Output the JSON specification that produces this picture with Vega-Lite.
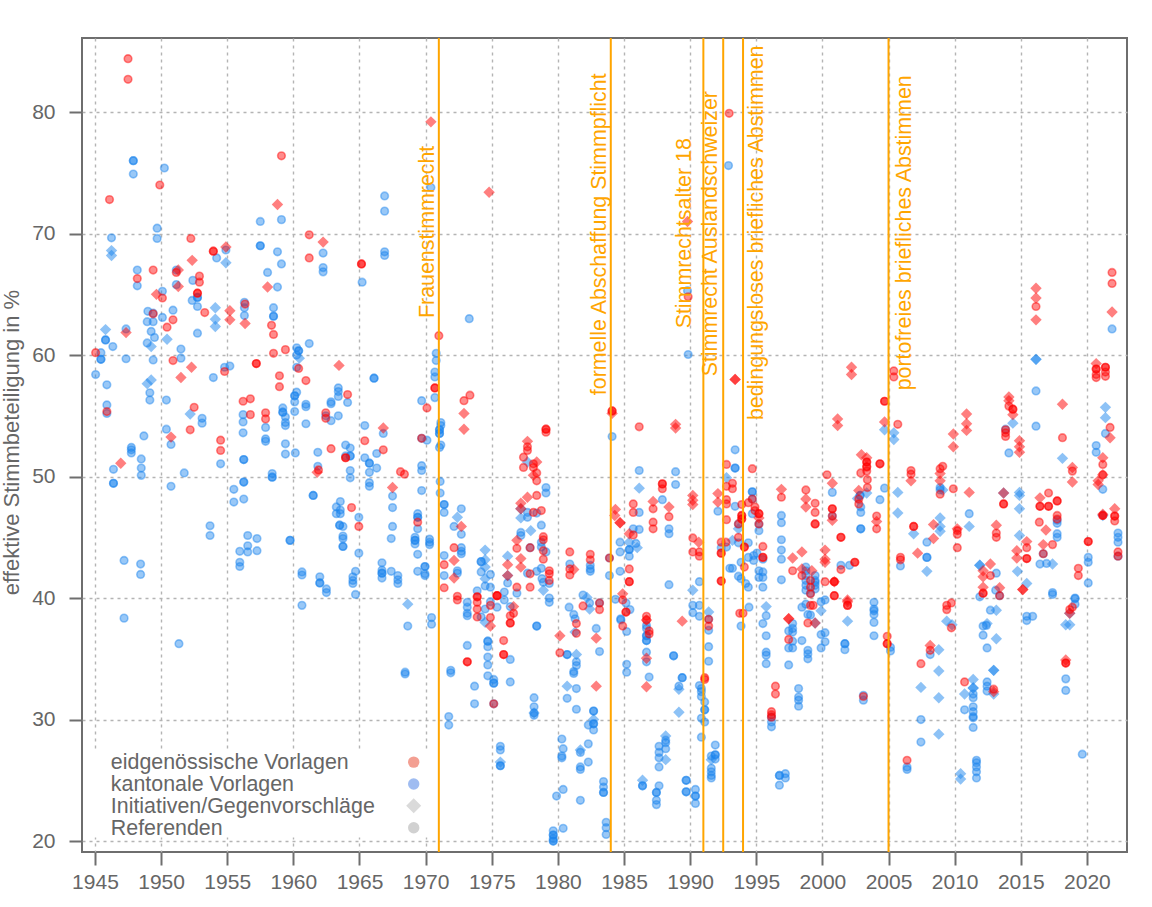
{"$schema":"https://vega.github.io/schema/vega-lite/v6.json","width":1045,"height":814,"autosize":{"type":"none"},"padding":{"left":82,"top":38,"right":25,"bottom":55},"background":"white","config":{"view":{"stroke":"#6e6e6e","strokeWidth":2},"font":"Liberation Sans"},
"datasets":{
"kR":[{"year":1947.9,"pct":76},{"year":1947.9,"pct":76},{"year":1947.9,"pct":74.9},{"year":1950.25,"pct":75.4},{"year":1949.7,"pct":70.45},{"year":1949.7,"pct":69.6},{"year":1946.25,"pct":69.65},{"year":1957.5,"pct":71},{"year":1959.1,"pct":71.15},{"year":1957.5,"pct":69},{"year":1957.5,"pct":69},{"year":1958.8,"pct":68.5},{"year":1959.1,"pct":67.5},{"year":1958.05,"pct":66.8},{"year":1958.8,"pct":65.6},{"year":1962.25,"pct":68.4},{"year":1962.25,"pct":67.2},{"year":1962.25,"pct":66.85},{"year":1965.2,"pct":66},{"year":1966.9,"pct":73.1},{"year":1966.9,"pct":71.85},{"year":1966.9,"pct":68.5},{"year":1966.9,"pct":68.2},{"year":1970.4,"pct":73.8},{"year":1948.2,"pct":67},{"year":1948.2,"pct":65.7},{"year":1954.2,"pct":68},{"year":1954.9,"pct":68.65},{"year":1951.15,"pct":67},{"year":1951.15,"pct":65.8},{"year":1952.4,"pct":66.15},{"year":1950.1,"pct":65.25},{"year":1952.35,"pct":64.5},{"year":1952.75,"pct":64.75},{"year":1952.75,"pct":64.75},{"year":1952.75,"pct":64},{"year":1956.3,"pct":64.35},{"year":1956.3,"pct":63.9},{"year":1958.5,"pct":63.9},{"year":1950.9,"pct":63.7},{"year":1949,"pct":63.6},{"year":1948.95,"pct":62.75},{"year":1949.4,"pct":63.45},{"year":1949.4,"pct":62.75},{"year":1950.1,"pct":63.1},{"year":1956.3,"pct":63.25},{"year":1958.5,"pct":63.2},{"year":1958.5,"pct":63.2},{"year":1949.25,"pct":61.95},{"year":1949.5,"pct":61.45},{"year":1948.95,"pct":61},{"year":1952.75,"pct":61.8},{"year":1947.35,"pct":62.15},{"year":1945.8,"pct":61.25},{"year":1945.8,"pct":61.25},{"year":1946.35,"pct":60.7},{"year":1945.45,"pct":60.2},{"year":1945.45,"pct":59.65},{"year":1945.45,"pct":59.65},{"year":1947.35,"pct":59.7},{"year":1949.4,"pct":59.6},{"year":1951.5,"pct":60.5},{"year":1951.5,"pct":59.75},{"year":1945.05,"pct":58.4},{"year":1945.9,"pct":57.55},{"year":1945.9,"pct":55.9},{"year":1945.9,"pct":55.2},{"year":1949.15,"pct":56.9},{"year":1949.15,"pct":56.3},{"year":1950.4,"pct":56.3},{"year":1953.95,"pct":58.15},{"year":1954.8,"pct":59},{"year":1955.2,"pct":59.1},{"year":1960.25,"pct":60.6},{"year":1960.4,"pct":60.35},{"year":1960.4,"pct":60.35},{"year":1960.25,"pct":60},{"year":1960.25,"pct":59},{"year":1961.2,"pct":60.95},{"year":1960.25,"pct":56.95},{"year":1960.1,"pct":56.65},{"year":1960.1,"pct":56.65},{"year":1960.1,"pct":56.15},{"year":1960.1,"pct":55.35},{"year":1960.95,"pct":55.95},{"year":1960.95,"pct":55.75},{"year":1960.95,"pct":54.35},{"year":1959.2,"pct":55.65},{"year":1959.2,"pct":55.3},{"year":1959.2,"pct":55.3},{"year":1959.4,"pct":54.9},{"year":1959.4,"pct":54.45},{"year":1959.4,"pct":54.2},{"year":1959.4,"pct":52.7},{"year":1959.4,"pct":51.85},{"year":1960.15,"pct":51.95},{"year":1957.9,"pct":54.05},{"year":1957.9,"pct":53.1},{"year":1957.9,"pct":52.9},{"year":1956.2,"pct":55.1},{"year":1956.2,"pct":54.5},{"year":1956.2,"pct":53.6},{"year":1956.25,"pct":51.4},{"year":1956.25,"pct":51.4},{"year":1954.5,"pct":51.05},{"year":1953.1,"pct":54.8},{"year":1953.1,"pct":54.4},{"year":1950.4,"pct":53.9},{"year":1950.75,"pct":52.65},{"year":1948.7,"pct":53.35},{"year":1947.75,"pct":52.4},{"year":1947.75,"pct":52.2},{"year":1947.75,"pct":51.95},{"year":1948.5,"pct":51.45},{"year":1948.5,"pct":50.7},{"year":1948.5,"pct":50.1},{"year":1946.4,"pct":50.6},{"year":1946.4,"pct":49.45},{"year":1946.4,"pct":49.45},{"year":1951.75,"pct":50.3},{"year":1950.75,"pct":49.2},{"year":1962.85,"pct":56.15},{"year":1962.85,"pct":56},{"year":1963.4,"pct":57.3},{"year":1963.4,"pct":57},{"year":1963.4,"pct":56.6},{"year":1964.1,"pct":56.1},{"year":1962.45,"pct":55},{"year":1962.85,"pct":54.6},{"year":1963.4,"pct":55},{"year":1966.1,"pct":58.1},{"year":1966.1,"pct":58.1},{"year":1965.4,"pct":54.2},{"year":1966.8,"pct":53.55},{"year":1966.3,"pct":51.9},{"year":1963.95,"pct":52.6},{"year":1964.3,"pct":52.35},{"year":1964.3,"pct":51.7},{"year":1964.3,"pct":51.7},{"year":1963.95,"pct":51.7},{"year":1965.4,"pct":51.55},{"year":1965.75,"pct":51.1},{"year":1965.75,"pct":51.1},{"year":1966.3,"pct":50.7},{"year":1965.75,"pct":50.35},{"year":1964.3,"pct":50.5},{"year":1964.3,"pct":49.9},{"year":1961.85,"pct":52},{"year":1961.85,"pct":50.85},{"year":1965.75,"pct":49.5},{"year":1965.75,"pct":49.2},{"year":1969.7,"pct":56.25},{"year":1969.7,"pct":53.15},{"year":1969.7,"pct":50.9},{"year":1969.7,"pct":50.5},{"year":1969.7,"pct":48.85},{"year":1970.1,"pct":53},{"year":1967.5,"pct":48.4},{"year":1967.5,"pct":47.45},{"year":1967.5,"pct":45.9},{"year":1967.4,"pct":44.9},{"year":1961.5,"pct":48.45},{"year":1961.5,"pct":48.45},{"year":1963.55,"pct":47.95},{"year":1963.25,"pct":47.5},{"year":1963.55,"pct":47.25},{"year":1963.25,"pct":46.95},{"year":1963.55,"pct":46.95},{"year":1963.5,"pct":46},{"year":1963.5,"pct":46},{"year":1963.75,"pct":45.9},{"year":1963.75,"pct":45.1},{"year":1963.75,"pct":44.9},{"year":1963.75,"pct":44.25},{"year":1963.75,"pct":44.25},{"year":1964.95,"pct":46.65},{"year":1964.95,"pct":43.7},{"year":1959.75,"pct":44.75},{"year":1959.75,"pct":44.75},{"year":1956.55,"pct":45.15},{"year":1957.25,"pct":44.9},{"year":1956.55,"pct":44.3},{"year":1956.55,"pct":43.8},{"year":1957.25,"pct":43.9},{"year":1955.95,"pct":43.85},{"year":1955.95,"pct":42.95},{"year":1955.95,"pct":42.6},{"year":1953.7,"pct":45.95},{"year":1953.7,"pct":45.15},{"year":1956.25,"pct":49.55},{"year":1956.25,"pct":49.55},{"year":1955.5,"pct":48.95},{"year":1955.5,"pct":47.9},{"year":1956.25,"pct":48.15},{"year":1958.4,"pct":50.25},{"year":1958.4,"pct":49.95},{"year":1958.4,"pct":49.95},{"year":1947.2,"pct":43.1},{"year":1948.45,"pct":42.8},{"year":1948.45,"pct":41.95},{"year":1960.65,"pct":42.15},{"year":1960.65,"pct":41.9},{"year":1962,"pct":41.75},{"year":1962,"pct":41.25},{"year":1962,"pct":41.25},{"year":1962.5,"pct":40.75},{"year":1962.5,"pct":40.45},{"year":1964.5,"pct":41.75},{"year":1964.5,"pct":41.45},{"year":1964.5,"pct":41.2},{"year":1964.7,"pct":42.2},{"year":1964.7,"pct":40.3},{"year":1966.7,"pct":42.9},{"year":1966.7,"pct":42.3},{"year":1966.7,"pct":42.05},{"year":1966.7,"pct":42.05},{"year":1966.7,"pct":41.65},{"year":1967.4,"pct":42.2},{"year":1967.9,"pct":41.85},{"year":1967.9,"pct":41.5},{"year":1967.9,"pct":41.2},{"year":1969.4,"pct":46.95},{"year":1969.4,"pct":46.65},{"year":1969.4,"pct":46.65},{"year":1969.4,"pct":45.7},{"year":1969.2,"pct":45},{"year":1969.2,"pct":44.75},{"year":1969.2,"pct":44.75},{"year":1969.2,"pct":44.45},{"year":1970.3,"pct":44.85},{"year":1970.3,"pct":44.6},{"year":1970.3,"pct":44.4},{"year":1969.4,"pct":43.6},{"year":1969.4,"pct":42.2},{"year":1969.95,"pct":42.6},{"year":1969.95,"pct":42.6},{"year":1969.95,"pct":42},{"year":1969.95,"pct":41.85},{"year":1947.2,"pct":38.35},{"year":1951.35,"pct":36.25},{"year":1960.65,"pct":39.4},{"year":1968.65,"pct":37.7},{"year":1970.45,"pct":38.4},{"year":1970.45,"pct":37.85},{"year":1968.45,"pct":33.9},{"year":1968.45,"pct":33.75},{"year":1970.8,"pct":60.15},{"year":1970.8,"pct":59.55},{"year":1970.7,"pct":58.6},{"year":1970.7,"pct":58.2},{"year":1970.7,"pct":56.5},{"year":1971.15,"pct":54.45},{"year":1971.15,"pct":54.2},{"year":1971.05,"pct":53.85},{"year":1971.05,"pct":53.85},{"year":1971.05,"pct":53.55},{"year":1971.05,"pct":53.55},{"year":1971.15,"pct":52.6},{"year":1971.05,"pct":52.4},{"year":1971.1,"pct":49.6},{"year":1971.1,"pct":48.65},{"year":1971.4,"pct":47.7},{"year":1971.4,"pct":47.7},{"year":1971.4,"pct":47.05},{"year":1972.7,"pct":47.35},{"year":1972.15,"pct":45.9},{"year":1972.7,"pct":45.25},{"year":1971.4,"pct":43.5},{"year":1971.4,"pct":41.85},{"year":1972.7,"pct":44.15},{"year":1972.7,"pct":43.85},{"year":1972.7,"pct":43.65},{"year":1972.4,"pct":42.25},{"year":1972.4,"pct":42.05},{"year":1974.2,"pct":43},{"year":1974.2,"pct":43},{"year":1974.2,"pct":42.15},{"year":1974.9,"pct":41.95},{"year":1974.5,"pct":41},{"year":1974.9,"pct":40.9},{"year":1973.9,"pct":40.6},{"year":1975.95,"pct":40.5},{"year":1976.2,"pct":41.25},{"year":1976.9,"pct":40.4},{"year":1977.7,"pct":47.05},{"year":1977.7,"pct":46.65},{"year":1978.4,"pct":47},{"year":1977.2,"pct":45.4},{"year":1977.2,"pct":45.15},{"year":1978.75,"pct":46},{"year":1979.1,"pct":49.1},{"year":1979.1,"pct":48.65},{"year":1978.75,"pct":44.6},{"year":1978.75,"pct":44.2},{"year":1979.1,"pct":43.8},{"year":1977.9,"pct":44.15},{"year":1977.7,"pct":42.05},{"year":1978.4,"pct":42.2},{"year":1978.75,"pct":42.45},{"year":1978.8,"pct":41.6},{"year":1978.9,"pct":41.3},{"year":1979.35,"pct":41.2},{"year":1980.9,"pct":42.8},{"year":1982.45,"pct":42.7},{"year":1982.45,"pct":42.4},{"year":1982.45,"pct":42.2},{"year":1983.9,"pct":43.3},{"year":1983.9,"pct":41.85},{"year":1984.1,"pct":53.3},{"year":1986.15,"pct":47.05},{"year":1986.15,"pct":50.5},{"year":1985.7,"pct":45.7},{"year":1986.15,"pct":45.65},{"year":1985.9,"pct":44.5},{"year":1984.7,"pct":44.6},{"year":1984.7,"pct":43.8},{"year":1985.4,"pct":44},{"year":1985.4,"pct":44},{"year":1985.4,"pct":43.45},{"year":1984.7,"pct":42.2},{"year":1987.9,"pct":48.1},{"year":1988.4,"pct":45.7},{"year":1988.4,"pct":45.3},{"year":1988.4,"pct":41.1},{"year":1988.9,"pct":50.4},{"year":1988.9,"pct":49.35},{"year":1989.85,"pct":60.05},{"year":1990.7,"pct":41.35},{"year":1992.1,"pct":47.15},{"year":1992.35,"pct":44.15},{"year":1993,"pct":42.45},{"year":1973.15,"pct":39.65},{"year":1973.15,"pct":39.25},{"year":1973.15,"pct":38.75},{"year":1973.15,"pct":38.55},{"year":1974.5,"pct":39.1},{"year":1974.2,"pct":38.45},{"year":1975.4,"pct":39.25},{"year":1975.95,"pct":39.85},{"year":1974.9,"pct":39.7},{"year":1976.4,"pct":39.3},{"year":1978.4,"pct":37.7},{"year":1978.4,"pct":37.7},{"year":1979.35,"pct":40},{"year":1979.35,"pct":39.65},{"year":1973.15,"pct":36.1},{"year":1974.7,"pct":36.45},{"year":1974.7,"pct":36.45},{"year":1974.7,"pct":36},{"year":1974.7,"pct":35.15},{"year":1974.7,"pct":34.5},{"year":1976.4,"pct":34.95},{"year":1974.7,"pct":33.6},{"year":1971.9,"pct":34.05},{"year":1971.9,"pct":33.85},{"year":1973.7,"pct":32.75},{"year":1973.7,"pct":31.3},{"year":1975.15,"pct":33.3},{"year":1975.15,"pct":33},{"year":1975.15,"pct":33},{"year":1976.4,"pct":33.1},{"year":1975.15,"pct":31.3},{"year":1978.2,"pct":31.8},{"year":1978.2,"pct":31.05},{"year":1978.2,"pct":30.55},{"year":1978.2,"pct":30.35},{"year":1971.75,"pct":30.25},{"year":1971.75,"pct":29.55},{"year":1975.65,"pct":27.8},{"year":1975.65,"pct":27.5},{"year":1975.65,"pct":26.2},{"year":1975.65,"pct":26.2},{"year":1980.85,"pct":39.25},{"year":1981.9,"pct":40.25},{"year":1982.4,"pct":39.6},{"year":1983.15,"pct":39.6},{"year":1982.9,"pct":37.5},{"year":1981.2,"pct":38.65},{"year":1981.3,"pct":38.3},{"year":1980.7,"pct":35.35},{"year":1980.7,"pct":35.35},{"year":1981.4,"pct":34.75},{"year":1981.4,"pct":34.45},{"year":1981.2,"pct":33.95},{"year":1981.2,"pct":33.8},{"year":1983.15,"pct":35.6},{"year":1981.4,"pct":32.55},{"year":1980.7,"pct":31.75},{"year":1981.4,"pct":30.85},{"year":1982.7,"pct":30.7},{"year":1982.7,"pct":30.7},{"year":1982.3,"pct":29.55},{"year":1982.7,"pct":29.65},{"year":1982.7,"pct":29.65},{"year":1982.7,"pct":29.15},{"year":1980.3,"pct":28.4},{"year":1980.4,"pct":27.6},{"year":1980.3,"pct":27},{"year":1980.3,"pct":26.85},{"year":1981.7,"pct":27.3},{"year":1982.3,"pct":28},{"year":1982.3,"pct":26.5},{"year":1981.7,"pct":26.1},{"year":1981.7,"pct":25.9},{"year":1979.9,"pct":23.7},{"year":1980.4,"pct":24.25},{"year":1981.7,"pct":23.35},{"year":1983.45,"pct":24.9},{"year":1983.45,"pct":24.45},{"year":1983.45,"pct":24},{"year":1983.45,"pct":24},{"year":1979.65,"pct":20.85},{"year":1979.65,"pct":20.5},{"year":1979.65,"pct":20.5},{"year":1979.65,"pct":20.2},{"year":1979.65,"pct":20},{"year":1979.65,"pct":20},{"year":1980.4,"pct":21.05},{"year":1983.65,"pct":21.55},{"year":1983.65,"pct":21.1},{"year":1983.65,"pct":20.55},{"year":1984.35,"pct":39.9},{"year":1985.15,"pct":39.6},{"year":1985.45,"pct":39.05},{"year":1984.75,"pct":38.3},{"year":1984.75,"pct":38.2},{"year":1985.2,"pct":37.25},{"year":1985.2,"pct":34.55},{"year":1985.2,"pct":33.9},{"year":1986.7,"pct":37.75},{"year":1986.7,"pct":37.5},{"year":1986.7,"pct":36.9},{"year":1986.7,"pct":36.9},{"year":1986.7,"pct":36.5},{"year":1986.7,"pct":36.5},{"year":1986.7,"pct":35.55},{"year":1986.7,"pct":34.75},{"year":1986.9,"pct":33.5},{"year":1988.75,"pct":35.25},{"year":1988.75,"pct":35.25},{"year":1990.2,"pct":39.4},{"year":1990.7,"pct":39.4},{"year":1990.2,"pct":38.8},{"year":1990.7,"pct":38.5},{"year":1991.4,"pct":38.25},{"year":1991.4,"pct":37.35},{"year":1991.4,"pct":36},{"year":1991.4,"pct":34.8},{"year":1990.7,"pct":32.8},{"year":1990.85,"pct":32.55},{"year":1990.85,"pct":32.3},{"year":1990.85,"pct":31.9},{"year":1991.1,"pct":31.45},{"year":1991.1,"pct":30.8},{"year":1991.1,"pct":30.8},{"year":1990.85,"pct":30.1},{"year":1991.1,"pct":29.8},{"year":1990.85,"pct":28.55},{"year":1989.4,"pct":33.45},{"year":1989.4,"pct":33.45},{"year":1989.15,"pct":32.75},{"year":1987.65,"pct":27.8},{"year":1987.65,"pct":27.3},{"year":1987.65,"pct":26.85},{"year":1987.65,"pct":26.1},{"year":1988.15,"pct":28.3},{"year":1988.15,"pct":28.1},{"year":1988.15,"pct":27.6},{"year":1986.4,"pct":24.55},{"year":1986.4,"pct":24.55},{"year":1987.65,"pct":24.55},{"year":1987.45,"pct":24},{"year":1987.45,"pct":24},{"year":1987.45,"pct":23.35},{"year":1987.45,"pct":23},{"year":1989.7,"pct":25},{"year":1989.7,"pct":25},{"year":1989.7,"pct":24.05},{"year":1989.7,"pct":24.05},{"year":1990.4,"pct":24.25},{"year":1990.4,"pct":23.7},{"year":1990.4,"pct":23.7},{"year":1990.4,"pct":23.1},{"year":1991.9,"pct":27.9},{"year":1991.6,"pct":27},{"year":1991.9,"pct":27.1},{"year":1991.9,"pct":27.1},{"year":1991.9,"pct":26.75},{"year":1991.6,"pct":26},{"year":1991.6,"pct":25.7},{"year":1991.6,"pct":25.4},{"year":1991.6,"pct":25.2},{"year":1989.8,"pct":65.3},{"year":1992.9,"pct":75.6},{"year":1973.3,"pct":63},{"year":1993.4,"pct":52.2},{"year":1993.4,"pct":50.7},{"year":1993.4,"pct":50.7},{"year":1993.4,"pct":47.55},{"year":1994.7,"pct":48.75},{"year":1994.7,"pct":48.75},{"year":1994.7,"pct":48.15},{"year":1994.7,"pct":46.95},{"year":1993.65,"pct":46.1},{"year":1995.2,"pct":46.1},{"year":1995.2,"pct":45.55},{"year":1993.65,"pct":44.55},{"year":1994.4,"pct":44.55},{"year":1992.75,"pct":44.2},{"year":1995.5,"pct":43.2},{"year":1995.05,"pct":43.7},{"year":1994.8,"pct":43.5},{"year":1994.4,"pct":43.35},{"year":1994.8,"pct":43.1},{"year":1993.85,"pct":42.95},{"year":1993.2,"pct":42.45},{"year":1995.2,"pct":42.25},{"year":1995.5,"pct":42.15},{"year":1995.2,"pct":41.7},{"year":1995.5,"pct":41.7},{"year":1995.5,"pct":40.9},{"year":1993.65,"pct":41.8},{"year":1993.85,"pct":41.6},{"year":1994.2,"pct":41.2},{"year":1994.4,"pct":40.9},{"year":1996.9,"pct":46.8},{"year":1996.9,"pct":46.2},{"year":1996.9,"pct":44.8},{"year":1996.9,"pct":43.95},{"year":1996.9,"pct":43.2},{"year":1996.9,"pct":41.5},{"year":1998.75,"pct":42.55},{"year":1998.75,"pct":42.25},{"year":1998.75,"pct":41.85},{"year":1998.75,"pct":41.45},{"year":1998.75,"pct":41.05},{"year":1998.75,"pct":40.65},{"year":1999.45,"pct":41.85},{"year":1999.45,"pct":41.45},{"year":1999.45,"pct":41.3},{"year":1999.45,"pct":41.05},{"year":1999.45,"pct":40.75},{"year":1999.1,"pct":40.4},{"year":2000.75,"pct":48.7},{"year":2000.75,"pct":46.75},{"year":2001.4,"pct":42.7},{"year":2002.05,"pct":42.7},{"year":2002.85,"pct":48.45},{"year":2002.85,"pct":48.45},{"year":2002.9,"pct":47.5},{"year":2002.9,"pct":47.05},{"year":2002.9,"pct":45.7},{"year":2002.9,"pct":45.7},{"year":2004.35,"pct":48.1},{"year":2004.7,"pct":49.05},{"year":2005.9,"pct":42.65},{"year":2007.9,"pct":44.6},{"year":2007.9,"pct":43.35},{"year":2007.9,"pct":43.35},{"year":2008.9,"pct":49.1},{"year":2008.9,"pct":48.9},{"year":2011.1,"pct":46.95},{"year":2013.15,"pct":42.05},{"year":2011.9,"pct":40.1},{"year":2013.1,"pct":40.65},{"year":2013.4,"pct":40.2},{"year":2014.1,"pct":51.95},{"year":2013.85,"pct":53.9},{"year":2016.15,"pct":57.05},{"year":2016.15,"pct":54.15},{"year":2017.75,"pct":46.4},{"year":2017.75,"pct":46.15},{"year":2017.75,"pct":45.3},{"year":2017.75,"pct":45},{"year":2016.7,"pct":43.65},{"year":2016.45,"pct":42.8},{"year":2016.95,"pct":42.85},{"year":2020.1,"pct":43.35},{"year":2020.1,"pct":42.95},{"year":2020.1,"pct":41.25},{"year":2019.1,"pct":40},{"year":2021.4,"pct":53.55},{"year":2020.7,"pct":52.55},{"year":2020.7,"pct":52},{"year":2021.2,"pct":48.95},{"year":2022.35,"pct":45.35},{"year":2022.35,"pct":45},{"year":2022.35,"pct":44.6},{"year":2022.35,"pct":43.45},{"year":2021.9,"pct":62.15},{"year":1994.45,"pct":39.25},{"year":1993.85,"pct":37.7},{"year":1995.75,"pct":38.55},{"year":1995.5,"pct":37.9},{"year":1995.75,"pct":36.9},{"year":1995.75,"pct":35.55},{"year":1995.75,"pct":35.3},{"year":1995.75,"pct":34.6},{"year":1997.75,"pct":37.9},{"year":1997.75,"pct":37.5},{"year":1997.75,"pct":37.2},{"year":1997.45,"pct":37.3},{"year":1997.75,"pct":36.45},{"year":1998.45,"pct":36.5},{"year":1997.45,"pct":35.9},{"year":1997.75,"pct":35.9},{"year":1997.45,"pct":34.5},{"year":1998.9,"pct":35.7},{"year":1998.9,"pct":35.4},{"year":1998.9,"pct":35},{"year":1998.9,"pct":38.65},{"year":1999.1,"pct":38.6},{"year":1998.45,"pct":39.25},{"year":1998.75,"pct":39.5},{"year":1999.9,"pct":39.7},{"year":2000.2,"pct":39.85},{"year":2000.2,"pct":37.15},{"year":1999.9,"pct":37},{"year":2000.2,"pct":36.4},{"year":1999.9,"pct":35.9},{"year":2001.7,"pct":36.25},{"year":2001.7,"pct":36.25},{"year":2001.7,"pct":35.75},{"year":2003.1,"pct":32},{"year":2003.1,"pct":31.6},{"year":2003.9,"pct":39.65},{"year":2003.9,"pct":39.1},{"year":2003.9,"pct":38.95},{"year":2003.9,"pct":38.65},{"year":2003.9,"pct":38},{"year":2003.9,"pct":36.9},{"year":2005.15,"pct":35.95},{"year":2005.15,"pct":35.65},{"year":1998.2,"pct":32.55},{"year":1998.2,"pct":31.85},{"year":1998.2,"pct":31.6},{"year":1998.2,"pct":31.1},{"year":1996.15,"pct":30.2},{"year":1996.15,"pct":29.8},{"year":1996.15,"pct":29.4},{"year":1997.2,"pct":25.55},{"year":1997.2,"pct":25.2},{"year":1996.75,"pct":25.4},{"year":1996.75,"pct":25.4},{"year":1996.75,"pct":24.6},{"year":2006.4,"pct":26.1},{"year":2006.4,"pct":25.9},{"year":2008.15,"pct":35.35},{"year":2007.45,"pct":30},{"year":2007.45,"pct":28.15},{"year":2011.4,"pct":32.1},{"year":2011.4,"pct":31.8},{"year":2010.75,"pct":30.8},{"year":2011.4,"pct":31.05},{"year":2011.4,"pct":30.65},{"year":2011.4,"pct":30.25},{"year":2011.4,"pct":30.15},{"year":2011.4,"pct":29.35},{"year":2011.65,"pct":26.65},{"year":2011.65,"pct":26.45},{"year":2011.65,"pct":26.1},{"year":2011.65,"pct":25.7},{"year":2011.65,"pct":25.2},{"year":2012.45,"pct":33.1},{"year":2012.45,"pct":32.75},{"year":2012.45,"pct":32.35},{"year":2012.15,"pct":36.95},{"year":2012.4,"pct":37.75},{"year":2012.15,"pct":37.7},{"year":2012.45,"pct":35.9},{"year":2012.7,"pct":39},{"year":2015.45,"pct":38.5},{"year":2015.45,"pct":38.15},{"year":2015.9,"pct":38.5},{"year":2017.4,"pct":40.45},{"year":2017.4,"pct":40.3},{"year":2019.1,"pct":39.95},{"year":2019.1,"pct":39.5},{"year":2018.4,"pct":33.35},{"year":2018.4,"pct":32.4},{"year":2019.65,"pct":27.15}],
"kI":[{"year":1946.25,"pct":68.6},{"year":1946.25,"pct":68.2},{"year":1954.9,"pct":67.6},{"year":1954.1,"pct":63.9},{"year":1945.8,"pct":62.1},{"year":1954.1,"pct":62.95},{"year":1954.1,"pct":62.35},{"year":1950.45,"pct":61.3},{"year":1949.25,"pct":60.7},{"year":1949.25,"pct":57.95},{"year":1948.95,"pct":57.65},{"year":1952.2,"pct":55.15},{"year":1960.45,"pct":59.75},{"year":1968.65,"pct":39.5},{"year":1972.4,"pct":46.65},{"year":1974.5,"pct":43.95},{"year":1974.5,"pct":43.15},{"year":1974.5,"pct":42.55},{"year":1974.5,"pct":41.6},{"year":1976.2,"pct":43.45},{"year":1976.2,"pct":41.85},{"year":1977.7,"pct":51.2},{"year":1977.2,"pct":47.35},{"year":1977.2,"pct":46.6},{"year":1977.95,"pct":45.55},{"year":1978.9,"pct":40.65},{"year":1986.15,"pct":49.05},{"year":1985.4,"pct":44.6},{"year":1986,"pct":44.15},{"year":1990.2,"pct":40.65},{"year":1992.75,"pct":49.9},{"year":1974.5,"pct":38},{"year":1978.2,"pct":30.55},{"year":1975.65,"pct":26.5},{"year":1982.2,"pct":40.05},{"year":1982.4,"pct":39.1},{"year":1981.3,"pct":37.2},{"year":1981.4,"pct":35.35},{"year":1980.7,"pct":32.75},{"year":1982.7,"pct":30},{"year":1981.7,"pct":27.5},{"year":1991.4,"pct":38.85},{"year":1989.15,"pct":32.5},{"year":1989.15,"pct":30.6},{"year":1988.15,"pct":28.65},{"year":1988.15,"pct":26.7},{"year":1986.4,"pct":25},{"year":1991.6,"pct":26.7},{"year":1993.2,"pct":44.75},{"year":1993.65,"pct":45.7},{"year":1995.75,"pct":39.3},{"year":1999.9,"pct":38.95},{"year":1999.45,"pct":37.95},{"year":2001.9,"pct":38.1},{"year":2003.35,"pct":48.65},{"year":2002.65,"pct":48.2},{"year":2004.7,"pct":53.85},{"year":2005.4,"pct":53.6},{"year":2005.4,"pct":53.05},{"year":2005.7,"pct":48.7},{"year":2005.7,"pct":47},{"year":2006.9,"pct":45.3},{"year":2007.9,"pct":42.2},{"year":2009.1,"pct":48.9},{"year":2008.9,"pct":46.6},{"year":2008.9,"pct":45.9},{"year":2008.9,"pct":45.5},{"year":2011.1,"pct":45.9},{"year":2008.8,"pct":35.75},{"year":2008.8,"pct":34},{"year":2007.45,"pct":32.65},{"year":2008.8,"pct":31.8},{"year":2008.8,"pct":28.8},{"year":2009.4,"pct":38.1},{"year":2009.8,"pct":37.8},{"year":2011.4,"pct":33.3},{"year":2011.4,"pct":32.6},{"year":2011.4,"pct":32.6},{"year":2010.75,"pct":32.1},{"year":2010.45,"pct":25.55},{"year":2010.45,"pct":25.1},{"year":2011.9,"pct":42.7},{"year":2011.9,"pct":42.7},{"year":2012.95,"pct":34.05},{"year":2012.95,"pct":34.05},{"year":2012.95,"pct":32.1},{"year":2013.15,"pct":36.65},{"year":2013.15,"pct":39},{"year":2012.45,"pct":37.9},{"year":2014.9,"pct":48.7},{"year":2014.9,"pct":48.45},{"year":2014.9,"pct":47.35},{"year":2014.9,"pct":45.15},{"year":2014.75,"pct":42.2},{"year":2015.45,"pct":41.2},{"year":2014.4,"pct":54.4},{"year":2016.15,"pct":59.65},{"year":2016.15,"pct":59.65},{"year":2018.15,"pct":51.5},{"year":2017.4,"pct":42.8},{"year":2018.4,"pct":37.8},{"year":2018.7,"pct":37.8},{"year":2021.4,"pct":55.7},{"year":2021.4,"pct":54.85},{"year":2021.2,"pct":46.8},{"year":2013.7,"pct":48.65},{"year":2018.7,"pct":38.75}],
"eI":[{"year":1958.8,"pct":72.4},{"year":1970.4,"pct":79.2},{"year":1962.25,"pct":69.3},{"year":1954.9,"pct":68.9},{"year":1952.35,"pct":67.8},{"year":1951.3,"pct":67},{"year":1951.3,"pct":65.65},{"year":1949.65,"pct":65},{"year":1958.05,"pct":65.6},{"year":1947.35,"pct":61.85},{"year":1955.2,"pct":63.65},{"year":1955.2,"pct":62.9},{"year":1956.35,"pct":62.6},{"year":1952.3,"pct":59},{"year":1951.5,"pct":58.15},{"year":1950.75,"pct":53.25},{"year":1946.95,"pct":51.1},{"year":1963.45,"pct":59.15},{"year":1966.8,"pct":54},{"year":1961.8,"pct":50.35},{"year":1967.5,"pct":49.1},{"year":1974.8,"pct":73.4},{"year":1989.8,"pct":71},{"year":1972.9,"pct":55.2},{"year":1972.9,"pct":53.9},{"year":1972.7,"pct":45.9},{"year":1972.15,"pct":43.1},{"year":1972.15,"pct":41.65},{"year":1976.2,"pct":42.75},{"year":1976.2,"pct":41.85},{"year":1977.2,"pct":47.8},{"year":1977.2,"pct":47.35},{"year":1977.7,"pct":48.3},{"year":1977.7,"pct":52.9},{"year":1978.4,"pct":51.2},{"year":1978.15,"pct":50.1},{"year":1976.9,"pct":44.75},{"year":1977.2,"pct":43.25},{"year":1977.2,"pct":42.55},{"year":1981.2,"pct":42.35},{"year":1984.1,"pct":55.2},{"year":1984.35,"pct":47.3},{"year":1984.3,"pct":46.8},{"year":1984.7,"pct":46.2},{"year":1984.7,"pct":46.2},{"year":1985.4,"pct":45.3},{"year":1987.2,"pct":47.95},{"year":1988.4,"pct":47.5},{"year":1988.9,"pct":54.3},{"year":1988.9,"pct":54},{"year":1990.2,"pct":48.45},{"year":1990.2,"pct":48.05},{"year":1990.2,"pct":47.7},{"year":1990.65,"pct":44.6},{"year":1992.1,"pct":48.6},{"year":1992.1,"pct":47.9},{"year":1974.9,"pct":37.7},{"year":1976.65,"pct":39.3},{"year":1984.9,"pct":40.35},{"year":1980.15,"pct":36.9},{"year":1982.9,"pct":36.7},{"year":1982.9,"pct":32.75},{"year":1986.7,"pct":35.05},{"year":1986.7,"pct":32.7},{"year":1986.7,"pct":38.2},{"year":1989.4,"pct":38.1},{"year":1993.4,"pct":58},{"year":1993.4,"pct":58},{"year":1995.2,"pct":46.6},{"year":1996.9,"pct":48.95},{"year":1997.75,"pct":43.3},{"year":1998.45,"pct":43.8},{"year":1998.45,"pct":42.4},{"year":1998.75,"pct":48.15},{"year":1998.75,"pct":47.5},{"year":2000.2,"pct":43.95},{"year":2000.2,"pct":43.2},{"year":2000.2,"pct":42.95},{"year":1999.2,"pct":42.25},{"year":2000.9,"pct":41.35},{"year":2000.75,"pct":49.45},{"year":2000.75,"pct":46.4},{"year":2001.15,"pct":54.75},{"year":2001.15,"pct":54.2},{"year":2002.2,"pct":59},{"year":2002.2,"pct":58.4},{"year":2001.9,"pct":39.85},{"year":2002.95,"pct":51.8},{"year":2003.35,"pct":51.55},{"year":2002.75,"pct":48.85},{"year":2004.7,"pct":54.5},{"year":2004.1,"pct":46.3},{"year":2006.7,"pct":49.65},{"year":2007.2,"pct":43.7},{"year":2008.4,"pct":46.05},{"year":2008.4,"pct":44.9},{"year":2008.9,"pct":50.25},{"year":2008.9,"pct":49.65},{"year":2009.9,"pct":53.5},{"year":2009.9,"pct":52.45},{"year":2010.9,"pct":55.15},{"year":2010.9,"pct":54.35},{"year":2010.9,"pct":53.8},{"year":2011.1,"pct":48.7},{"year":2010.2,"pct":45.7},{"year":2013.15,"pct":46},{"year":2012.7,"pct":42.8},{"year":2012.15,"pct":42.25},{"year":2012.15,"pct":41.75},{"year":2012.15,"pct":40.9},{"year":2013.4,"pct":40.85},{"year":2013.7,"pct":48.65},{"year":2014.7,"pct":43.9},{"year":2014.7,"pct":43.3},{"year":2015.45,"pct":44.65},{"year":2015.15,"pct":40.7},{"year":2015.15,"pct":40.7},{"year":2014.1,"pct":56.55},{"year":2014.1,"pct":56.25},{"year":2014.4,"pct":55.1},{"year":2014.9,"pct":52.95},{"year":2014.9,"pct":52.45},{"year":2014.9,"pct":52},{"year":2018.15,"pct":55.95},{"year":2018.9,"pct":50.75},{"year":2018.9,"pct":49.55},{"year":2016.45,"pct":48.25},{"year":2016.9,"pct":45.6},{"year":2016.7,"pct":44.4},{"year":2016.15,"pct":65.5},{"year":2016.15,"pct":64.7},{"year":2016.15,"pct":62.9},{"year":2021.9,"pct":63.55},{"year":2020.7,"pct":59.3},{"year":2021.75,"pct":53.2},{"year":2021.2,"pct":51.55},{"year":2021.2,"pct":50.15},{"year":2020.85,"pct":49.65},{"year":2020.85,"pct":49.35},{"year":2021.2,"pct":46.9},{"year":2022.1,"pct":47.35},{"year":1997.45,"pct":38.3},{"year":1997.45,"pct":38.3},{"year":1999.45,"pct":37.95},{"year":2001.9,"pct":39.7},{"year":2008.15,"pct":36.1},{"year":2012.95,"pct":32.3},{"year":2018.7,"pct":38.75},{"year":2018.4,"pct":34.9}],
"eR":[{"year":1947.5,"pct":84.4},{"year":1947.5,"pct":82.7},{"year":1949.9,"pct":74},{"year":1946.1,"pct":72.8},{"year":1959.1,"pct":76.4},{"year":1961.2,"pct":69.9},{"year":1961.2,"pct":68},{"year":1952.25,"pct":69.6},{"year":1953.95,"pct":68.55},{"year":1953.95,"pct":68.55},{"year":1965.15,"pct":67.5},{"year":1965.15,"pct":67.5},{"year":1949.4,"pct":67},{"year":1948.2,"pct":66.3},{"year":1951.15,"pct":66.8},{"year":1952.9,"pct":66.5},{"year":1952.9,"pct":66},{"year":1950.1,"pct":64.7},{"year":1952.75,"pct":65.1},{"year":1952.75,"pct":65.1},{"year":1945.05,"pct":60.2},{"year":1949.4,"pct":63.4},{"year":1950.45,"pct":62.3},{"year":1950.9,"pct":62.9},{"year":1953.3,"pct":63.5},{"year":1956.35,"pct":64.2},{"year":1958.35,"pct":62.45},{"year":1958.5,"pct":61.7},{"year":1958.5,"pct":60.15},{"year":1959.4,"pct":60.45},{"year":1957.2,"pct":59.3},{"year":1957.2,"pct":59.3},{"year":1954.8,"pct":58.65},{"year":1950.9,"pct":59.55},{"year":1960.4,"pct":58.9},{"year":1958.95,"pct":58.3},{"year":1958.95,"pct":57.4},{"year":1960.95,"pct":57.9},{"year":1956.2,"pct":56.2},{"year":1956.75,"pct":56.4},{"year":1956.75,"pct":55.1},{"year":1957.9,"pct":55.25},{"year":1957.9,"pct":54.75},{"year":1952.5,"pct":55.7},{"year":1952.2,"pct":53.85},{"year":1954.5,"pct":53},{"year":1954.5,"pct":52.15},{"year":1945.9,"pct":55.35},{"year":1962.45,"pct":55.25},{"year":1962.45,"pct":54.8},{"year":1964.1,"pct":56.75},{"year":1965.4,"pct":52.95},{"year":1966.8,"pct":52.2},{"year":1962.85,"pct":52.3},{"year":1963.95,"pct":51.55},{"year":1963.95,"pct":51.55},{"year":1961.9,"pct":50.55},{"year":1964.4,"pct":47.45},{"year":1964.95,"pct":45.9},{"year":1968.1,"pct":50.4},{"year":1968.4,"pct":50.2},{"year":1969.4,"pct":46.25},{"year":1969.7,"pct":53.15},{"year":1970.1,"pct":55.65},{"year":1971,"pct":61.6},{"year":1970.7,"pct":57.3},{"year":1970.7,"pct":57.3},{"year":1973.35,"pct":56.7},{"year":1972.9,"pct":56.25},{"year":1972.15,"pct":44.15},{"year":1971.4,"pct":42.75},{"year":1971.4,"pct":40.85},{"year":1972.4,"pct":40.15},{"year":1972.4,"pct":39.85},{"year":1973.9,"pct":40.1},{"year":1973.9,"pct":40.1},{"year":1975.4,"pct":40.2},{"year":1975.4,"pct":40.2},{"year":1975.4,"pct":40.2},{"year":1976.9,"pct":40.9},{"year":1977.7,"pct":52.45},{"year":1977.7,"pct":52.15},{"year":1977.4,"pct":51.6},{"year":1977.4,"pct":50.75},{"year":1978.15,"pct":51.05},{"year":1978.15,"pct":50.75},{"year":1978.4,"pct":50.3},{"year":1978.4,"pct":49.65},{"year":1978.4,"pct":48.45},{"year":1978.75,"pct":47.2},{"year":1978.15,"pct":47.05},{"year":1978.9,"pct":45.05},{"year":1978.9,"pct":44.8},{"year":1978.9,"pct":43.9},{"year":1978.9,"pct":43.2},{"year":1977.9,"pct":44.15},{"year":1976.9,"pct":44.1},{"year":1977.9,"pct":42},{"year":1977.9,"pct":40.9},{"year":1979.35,"pct":42.25},{"year":1979.35,"pct":42},{"year":1979.35,"pct":41.45},{"year":1979.1,"pct":53.9},{"year":1979.1,"pct":53.9},{"year":1979.1,"pct":53.65},{"year":1980.9,"pct":43.8},{"year":1980.9,"pct":42.4},{"year":1980.9,"pct":41.9},{"year":1982.45,"pct":43.6},{"year":1982.45,"pct":43.15},{"year":1983.9,"pct":43.3},{"year":1984.1,"pct":55.4},{"year":1984.1,"pct":55.4},{"year":1985.7,"pct":47.75},{"year":1985.7,"pct":47.05},{"year":1985.4,"pct":42.4},{"year":1985.4,"pct":41.35},{"year":1985.4,"pct":41.35},{"year":1985.7,"pct":45.2},{"year":1986.15,"pct":54.1},{"year":1987.9,"pct":49.4},{"year":1987.9,"pct":49.4},{"year":1987.9,"pct":49},{"year":1987.2,"pct":47.35},{"year":1988.4,"pct":46.7},{"year":1987.2,"pct":46.25},{"year":1987.2,"pct":45.7},{"year":1990.2,"pct":44.95},{"year":1990.2,"pct":43.8},{"year":1990.7,"pct":43.8},{"year":1990.7,"pct":43.45},{"year":1992.35,"pct":44.6},{"year":1992.7,"pct":44.6},{"year":1992.35,"pct":43.7},{"year":1992.35,"pct":43.7},{"year":1992.35,"pct":41.4},{"year":1992.35,"pct":41.4},{"year":1992.95,"pct":79.9},{"year":1989.85,"pct":64.8},{"year":1973.9,"pct":39.65},{"year":1973.9,"pct":39.1},{"year":1973.9,"pct":38.45},{"year":1974.9,"pct":39.4},{"year":1974.9,"pct":38.4},{"year":1976.65,"pct":38.75},{"year":1976.4,"pct":38.55},{"year":1976.4,"pct":37.95},{"year":1976.4,"pct":37.95},{"year":1975.9,"pct":36.5},{"year":1975.9,"pct":35.35},{"year":1975.9,"pct":35.35},{"year":1973.15,"pct":34.75},{"year":1973.15,"pct":34.75},{"year":1975.15,"pct":31.3},{"year":1981.9,"pct":39.35},{"year":1983.15,"pct":39.6},{"year":1983.15,"pct":39.05},{"year":1980.15,"pct":35.5},{"year":1981.4,"pct":37.9},{"year":1981.4,"pct":37.1},{"year":1984.9,"pct":39.85},{"year":1985.15,"pct":38.85},{"year":1985.15,"pct":38.85},{"year":1984.9,"pct":37.7},{"year":1986.7,"pct":38.5},{"year":1986.7,"pct":38.2},{"year":1986.9,"pct":37.3},{"year":1986.9,"pct":37.05},{"year":1991.4,"pct":38.25},{"year":1991.4,"pct":37.7},{"year":1991.1,"pct":33.45},{"year":1991.1,"pct":33.3},{"year":1992.75,"pct":51},{"year":1994.7,"pct":50.65},{"year":1993.2,"pct":49.45},{"year":1993.2,"pct":49},{"year":1992.75,"pct":49.2},{"year":1992.75,"pct":48.1},{"year":1992.75,"pct":47.75},{"year":1992.75,"pct":46.45},{"year":1993.9,"pct":47.7},{"year":1994.4,"pct":47.85},{"year":1994.7,"pct":48.15},{"year":1994.9,"pct":47.5},{"year":1994.9,"pct":47.2},{"year":1995.2,"pct":46.95},{"year":1995.2,"pct":46.95},{"year":1993.9,"pct":46.8},{"year":1993.9,"pct":46.8},{"year":1993.9,"pct":46.5},{"year":1993.9,"pct":46.5},{"year":1993.65,"pct":46.1},{"year":1995.2,"pct":46.1},{"year":1993.65,"pct":45},{"year":1994.1,"pct":44.2},{"year":1994.1,"pct":44.2},{"year":1995.5,"pct":44.25},{"year":1995.5,"pct":43.35},{"year":1995.5,"pct":43.35},{"year":1994.1,"pct":42.55},{"year":1993.75,"pct":38.75},{"year":1996.9,"pct":48.3},{"year":1997.75,"pct":42.25},{"year":1998.45,"pct":41.85},{"year":1998.75,"pct":48.9},{"year":1999.45,"pct":47.8},{"year":1999.45,"pct":47.05},{"year":1999.45,"pct":46.1},{"year":1999.45,"pct":46.1},{"year":1999.1,"pct":41.45},{"year":1999.1,"pct":40.9},{"year":1999.1,"pct":40.35},{"year":2000.2,"pct":41.35},{"year":2000.9,"pct":41.35},{"year":2000.9,"pct":41.35},{"year":2000.9,"pct":40.2},{"year":2000.35,"pct":50.15},{"year":2000.75,"pct":47.35},{"year":2000.75,"pct":47.35},{"year":2000.75,"pct":46.75},{"year":2001.4,"pct":45},{"year":2001.4,"pct":45},{"year":2001.4,"pct":42.35},{"year":2002.45,"pct":42.95},{"year":2002.45,"pct":42.95},{"year":2003.35,"pct":51.2},{"year":2003.35,"pct":51.2},{"year":2003.35,"pct":50.8},{"year":2003.35,"pct":50.8},{"year":2003.35,"pct":50.45},{"year":2002.9,"pct":50.3},{"year":2003.4,"pct":49.75},{"year":2003.4,"pct":49.1},{"year":2002.75,"pct":48.15},{"year":2002.75,"pct":47.75},{"year":2004.35,"pct":51.05},{"year":2004.35,"pct":51.05},{"year":2004.7,"pct":56.2},{"year":2004.7,"pct":56.2},{"year":2004.1,"pct":46.75},{"year":2004.1,"pct":45.7},{"year":2005.4,"pct":58.7},{"year":2005.4,"pct":58.2},{"year":2005.7,"pct":54.3},{"year":2005.9,"pct":43.35},{"year":2005.9,"pct":43.15},{"year":2006.7,"pct":50.5},{"year":2006.7,"pct":50.2},{"year":2006.9,"pct":45.9},{"year":2006.9,"pct":45.9},{"year":2008.9,"pct":50.65},{"year":2009.1,"pct":50.85},{"year":2008.9,"pct":48.55},{"year":2009.9,"pct":49},{"year":2010.2,"pct":45.55},{"year":2010.2,"pct":45.25},{"year":2010.2,"pct":44.15},{"year":2013.15,"pct":45.35},{"year":2013.15,"pct":45},{"year":2012.7,"pct":41.85},{"year":2012.15,"pct":40.4},{"year":2012.15,"pct":40.4},{"year":2013.4,"pct":40.2},{"year":2013.7,"pct":47.75},{"year":2013.7,"pct":47.75},{"year":2015.45,"pct":44.15},{"year":2015.45,"pct":43.25},{"year":2015.45,"pct":43.25},{"year":2014.1,"pct":55.8},{"year":2014.4,"pct":55.55},{"year":2014.4,"pct":55.55},{"year":2013.85,"pct":53.85},{"year":2013.85,"pct":53.6},{"year":2013.85,"pct":53.3},{"year":2018.15,"pct":53.2},{"year":2018.9,"pct":50.45},{"year":2016.45,"pct":47.55},{"year":2016.45,"pct":47.55},{"year":2017.1,"pct":48.65},{"year":2017.1,"pct":47.55},{"year":2017.1,"pct":47.55},{"year":2017.75,"pct":48},{"year":2017.75,"pct":48},{"year":2017.75,"pct":46.8},{"year":2017.75,"pct":46.5},{"year":2016.4,"pct":46.25},{"year":2017.4,"pct":44.4},{"year":2016.7,"pct":43.65},{"year":2020.1,"pct":44.65},{"year":2020.1,"pct":44.65},{"year":2019.35,"pct":42.45},{"year":2019.35,"pct":41.85},{"year":2016.15,"pct":64},{"year":2021.9,"pct":66.8},{"year":2021.9,"pct":65.9},{"year":2020.7,"pct":58.85},{"year":2020.7,"pct":58.85},{"year":2020.7,"pct":58.4},{"year":2020.7,"pct":58.15},{"year":2021.4,"pct":59},{"year":2021.4,"pct":59},{"year":2021.4,"pct":58.6},{"year":2021.4,"pct":58.25},{"year":2021.75,"pct":54.05},{"year":2021.2,"pct":51},{"year":2021.2,"pct":50.15},{"year":2021.2,"pct":46.8},{"year":2021.2,"pct":46.8},{"year":2022.1,"pct":46.75},{"year":2022.1,"pct":46.75},{"year":2022.1,"pct":46.35},{"year":2022.35,"pct":43.8},{"year":2022.35,"pct":43.45},{"year":1994,"pct":38.75},{"year":1998.9,"pct":37.95},{"year":1997.45,"pct":36.6},{"year":1999.1,"pct":39.4},{"year":1999.3,"pct":39.4},{"year":2000.9,"pct":40.2},{"year":2001.9,"pct":39.4},{"year":2001.9,"pct":39.4},{"year":2003.1,"pct":31.9},{"year":2004.9,"pct":36.85},{"year":2004.9,"pct":36.25},{"year":2004.9,"pct":36.25},{"year":1996.45,"pct":32.75},{"year":1996.45,"pct":32.1},{"year":1996.15,"pct":30.65},{"year":1996.15,"pct":30.4},{"year":1996.15,"pct":30.2},{"year":2006.4,"pct":26.65},{"year":2008.15,"pct":35.7},{"year":2007.45,"pct":34.6},{"year":2009.4,"pct":39.4},{"year":2009.4,"pct":39.05},{"year":2009.75,"pct":39.6},{"year":2009.75,"pct":37.55},{"year":2010.75,"pct":33.1},{"year":2012.95,"pct":32.5},{"year":2018.7,"pct":39.05},{"year":2018.9,"pct":39.25},{"year":2018.4,"pct":34.65},{"year":2018.4,"pct":34.65}],
"events":[{"event":"Frauenstimmrecht","year":1971},{"event":"formelle Abschaffung Stimmpflicht","year":1984},{"event":"Stimmrechtsalter 18","year":1991},{"event":"Stimmrecht Auslandschweizer","year":1992.5},{"event":"bedingungsloses briefliches Abstimmen","year":1994},{"event":"portofreies briefliches Abstimmen","year":2005}],
"eventLabels":[{"event":"Frauenstimmrecht","year":1970.18,"pct":63.05},{"event":"formelle Abschaffung Stimmpflicht","year":1983.2,"pct":56.7},{"event":"Stimmrechtsalter 18","year":1989.6,"pct":62.2},{"event":"Stimmrecht Auslandschweizer","year":1991.57,"pct":58.25},{"event":"bedingungsloses briefliches Abstimmen","year":1995.05,"pct":54.65},{"event":"portofreies briefliches Abstimmen","year":2006.25,"pct":57.1}],
"key":[{"label":"eidgenössische Vorlagen","year":1969.1,"pct":26.5},{"label":"kantonale Vorlagen","year":1969.1,"pct":24.7},{"label":"Initiativen/Gegenvorschläge","year":1969.1,"pct":22.9},{"label":"Referenden","year":1969.1,"pct":21.1}],
"keyLabels":[{"label":"eidgenössische Vorlagen","year":1946.2,"pct":26.42},{"label":"kantonale Vorlagen","year":1946.2,"pct":24.62},{"label":"Initiativen/Gegenvorschläge","year":1946.2,"pct":22.82},{"label":"Referenden","year":1946.2,"pct":21.02}]
},
"encoding":{"x":{"field":"year","type":"quantitative","scale":{"domain":[1944.02,2023.03],"nice":false,"zero":false},"axis":{"title":null,"values":[1945,1950,1955,1960,1965,1970,1975,1980,1985,1990,1995,2000,2005,2010,2015,2020],"format":"d","labelOverlap":false,"labelFontSize":21,"labelColor":"#666666","labelFont":"Liberation Sans","labelPadding":6,"tickSize":13,"tickWidth":2,"tickColor":"#6e6e6e","domain":false,"grid":true,"gridColor":"#b4b4b4","gridDash":[3,4],"gridWidth":1.4}},"y":{"field":"pct","type":"quantitative","scale":{"domain":[19.1,86.1],"nice":false,"zero":false},"axis":{"title":"effektive Stimmbeteiligung in %","titleFontSize":22,"titleFontWeight":"normal","titleColor":"#666666","titleFont":"Liberation Sans","titlePadding":8,"titleY":404,"values":[20,30,40,50,60,70,80],"labelFontSize":21,"labelColor":"#666666","labelFont":"Liberation Sans","labelPadding":14,"tickSize":13,"tickWidth":2,"tickColor":"#6e6e6e","domain":false,"grid":true,"gridColor":"#b4b4b4","gridDash":[3,4],"gridWidth":1.4}}},
"layer":[
{"data":{"values":[{"year":1944.3,"year2":1970.3,"pct":20.3,"pct2":27.5}]},"mark":{"type":"rect","fill":"white"},"encoding":{"x2":{"field":"year2"},"y2":{"field":"pct2"}}},
{"data":{"name":"kI"},"mark":{"type":"point","shape":"diamond","filled":true,"size":130,"color":"#1c86ee","opacity":0.5,"strokeWidth":0}},
{"data":{"name":"kR"},"mark":{"type":"point","shape":"circle","filled":true,"size":58,"fill":"#1c86ee","stroke":"#1c86ee","fillOpacity":0.45,"strokeOpacity":0.45,"strokeWidth":1.6}},
{"data":{"name":"eI"},"mark":{"type":"point","shape":"diamond","filled":true,"size":130,"color":"#ff0000","opacity":0.5,"strokeWidth":0}},
{"data":{"name":"eR"},"mark":{"type":"point","shape":"circle","filled":true,"size":58,"fill":"#ff0000","stroke":"#ff0000","fillOpacity":0.45,"strokeOpacity":0.45,"strokeWidth":1.6}},
{"data":{"name":"events"},"mark":{"type":"rule","color":"#ffa500","strokeWidth":2},"encoding":{"y":null}},
{"data":{"name":"eventLabels"},"mark":{"type":"text","angle":270,"align":"left","baseline":"middle","color":"#ffa500","fontSize":21.4,"font":"Liberation Sans"},"encoding":{"text":{"field":"event"}}},
{"data":{"name":"keyLabels"},"mark":{"type":"text","align":"left","baseline":"middle","color":"#666666","fontSize":21.4,"font":"Liberation Sans"},"encoding":{"text":{"field":"label"}}},
{"data":{"name":"key"},"mark":{"type":"point","filled":true,"opacity":0.95,"strokeWidth":0},"encoding":{"color":{"field":"label","type":"nominal","legend":null,"scale":{"domain":["eidgenössische Vorlagen","kantonale Vorlagen","Initiativen/Gegenvorschläge","Referenden"],"range":["#f29a8c","#9ab8f0","#d8d8d8","#cfcfcf"]}},"shape":{"field":"label","type":"nominal","legend":null,"scale":{"domain":["eidgenössische Vorlagen","kantonale Vorlagen","Initiativen/Gegenvorschläge","Referenden"],"range":["circle","circle","diamond","circle"]}},"size":{"field":"label","type":"nominal","legend":null,"scale":{"type":"ordinal","domain":["eidgenössische Vorlagen","kantonale Vorlagen","Initiativen/Gegenvorschläge","Referenden"],"range":[130,130,225,130]}}}}
]}
